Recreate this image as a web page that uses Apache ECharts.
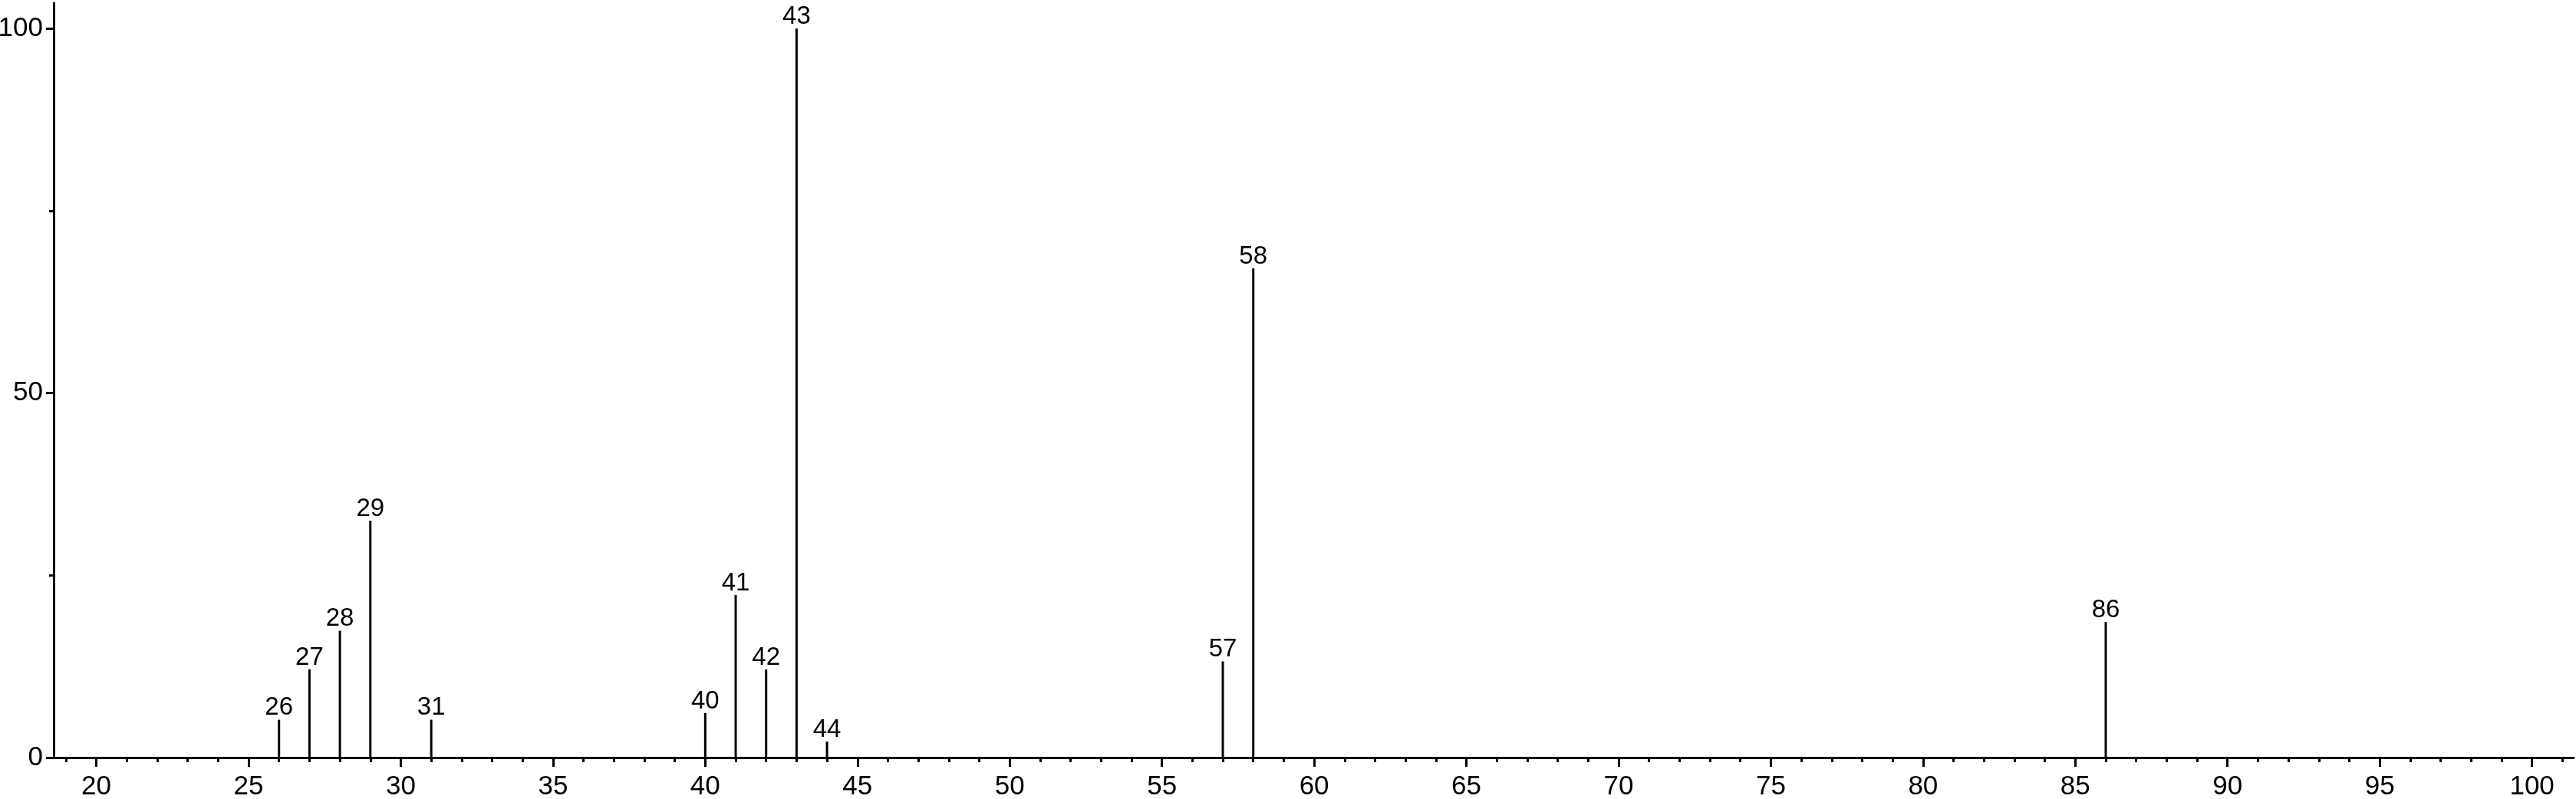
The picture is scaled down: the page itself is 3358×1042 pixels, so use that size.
<!DOCTYPE html>
<html>
<head>
<meta charset="utf-8">
<script src="https://cdn.jsdelivr.net/npm/echarts@6/dist/echarts.min.js"></script>
<style>
html,body{margin:0;padding:0;background:#fff;}
#chart{width:3358px;height:1042px;}
</style>
</head>
<body>
<div id="chart"></div>
<script>
// Mass spectrum: m/z vs relative intensity
var mz = [26, 27, 28, 29, 31, 40, 41, 42, 43, 44, 57, 58, 86];
var intensity = [5.2, 12.1, 17.4, 32.5, 5.2, 6.1, 22.3, 12.1, 100, 2.2, 13.2, 67.1, 18.6];
var xMajorTicks = [20, 25, 30, 35, 40, 45, 50, 55, 60, 65, 70, 75, 80, 85, 90, 95, 100];
var yMajorTicks = [0, 50, 100];
var yMinorTicks = [25, 75];

var xMinorTicks = [];
for (var t = 19; t <= 101; t++) xMinorTicks.push(t);

var data = mz.map(function (m, i) { return [m, intensity[i]]; });

var font = '"Liberation Sans", Arial, sans-serif';
var chart = echarts.init(document.getElementById('chart'), null, {renderer: 'canvas'});
var xMin = 18.6, xMax = 101.37, yMin = 0, yMax = 103.5;

chart.setOption({
  animation: false,
  backgroundColor: '#fff',
  grid: {left: 70, right: 3, top: 4, bottom: 54, containLabel: false, outerBoundsMode: 'none'},
  xAxis: [{
    type: 'value', min: xMin, max: xMax, position: 'bottom',
    axisLine: {show: true, onZero: false, lineStyle: {color: '#000', width: 3}},
    axisTick: {show: true, customValues: xMajorTicks, length: 12, lineStyle: {color: '#000', width: 3}},
    axisLabel: {show: true, customValues: xMajorTicks, fontSize: 35, color: '#000', fontFamily: font, margin: 21},
    splitLine: {show: false}
  }, {
    type: 'value', min: xMin, max: xMax, position: 'bottom',
    axisLine: {show: false, onZero: false},
    axisTick: {show: true, customValues: xMinorTicks, length: 6, lineStyle: {color: '#000', width: 3}},
    axisLabel: {show: false},
    splitLine: {show: false}
  }],
  yAxis: [{
    type: 'value', min: yMin, max: yMax, position: 'left',
    axisLine: {show: true, onZero: false, lineStyle: {color: '#000', width: 3}},
    axisTick: {show: true, customValues: yMajorTicks, length: 10, lineStyle: {color: '#000', width: 3}},
    axisLabel: {show: true, customValues: yMajorTicks, fontSize: 35, color: '#000', fontFamily: font, margin: 14},
    splitLine: {show: false}
  }, {
    type: 'value', min: yMin, max: yMax, position: 'left',
    axisLine: {show: false, onZero: false},
    axisTick: {show: true, customValues: yMinorTicks, length: 6, lineStyle: {color: '#000', width: 3}},
    axisLabel: {show: false},
    splitLine: {show: false}
  }],
  series: [{
    type: 'bar',
    xAxisIndex: 0, yAxisIndex: 0,
    data: data,
    barWidth: 3,
    itemStyle: {color: '#000'},
    label: {
      show: true, position: 'top', distance: -1,
      fontSize: 33, color: '#000', fontFamily: font,
      formatter: function (p) { return String(p.value[0]); }
    }
  }]
});
</script>
</body>
</html>
